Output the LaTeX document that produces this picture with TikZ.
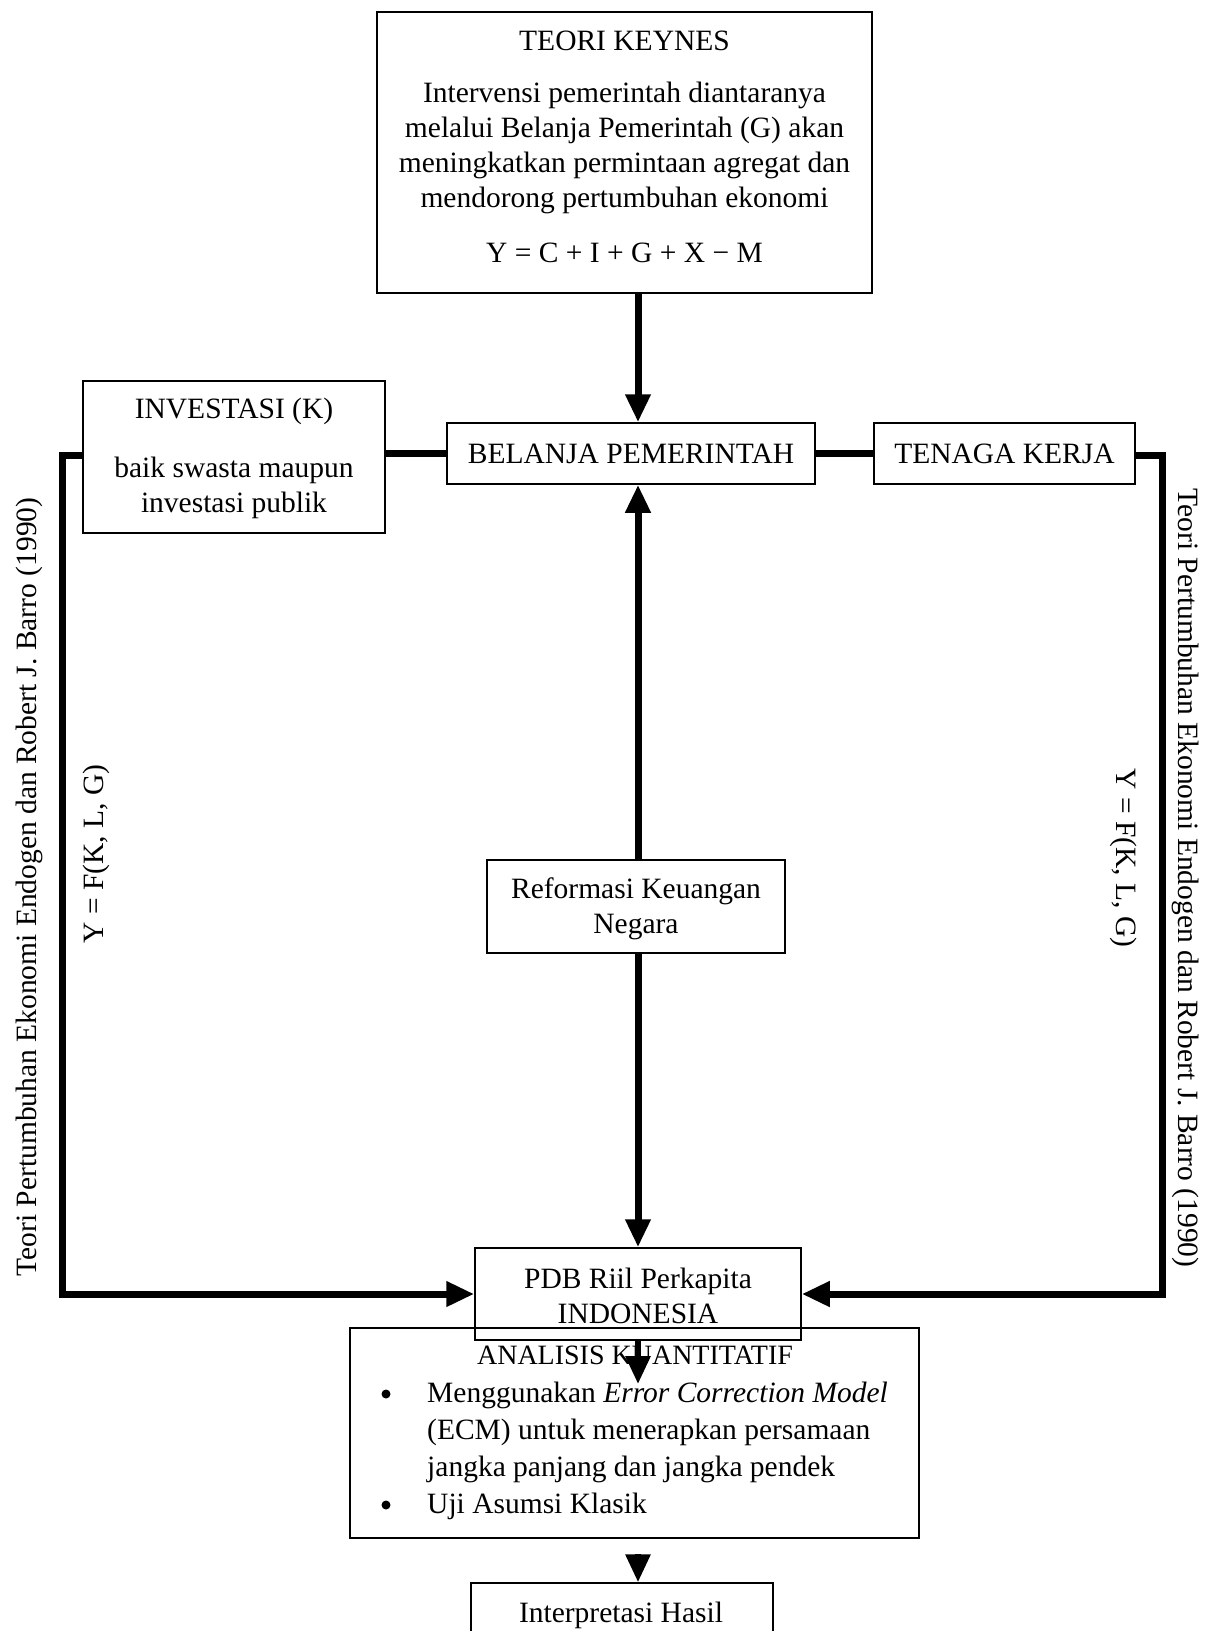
\documentclass[tikz,border=0pt]{standalone}
\usepackage{fontspec}
\setmainfont{Liberation Serif}
\usetikzlibrary{arrows.meta}
\begin{document}
\begin{tikzpicture}[x=1pt,y=-1pt,
  box/.style={draw,line width=1.5pt,inner sep=0pt},
  txt/.style={font=\fontsize{29.5}{35}\selectfont, inner sep=0pt, align=center},
  bul/.style={circle,fill,inner sep=0pt,minimum size=9pt},
  conn/.style={line width=7pt},
  arr/.style={line width=7pt,-{Triangle[length=28pt,width=24pt]}},
]
\useasboundingbox (0,0) rectangle (1213,1631);
\fill[white] (0,0) rectangle (1213,1631);
% Keynes
\node[box,minimum width=495pt,minimum height=281pt] (keynes) at (624.5,152.5) {};
\node[txt] (k0) at (624.5,41) {TEORI KEYNES};
\node[txt] (k1) at (624.5,148) {Intervensi pemerintah diantaranya\\melalui Belanja Pemerintah (G) akan\\meningkatkan permintaan agregat dan\\mendorong pertumbuhan ekonomi};
\node[txt] (k2) at (624.5,253) {Y = C + I + G + X − M};
% Investasi
\node[box,minimum width=302pt,minimum height=152pt] (inv) at (234,457) {};
\node[txt] (i0) at (234,411) {INVESTASI (K)};
\node[txt] (i1) at (234,488) {baik swasta maupun\\investasi publik};
% Belanja, Tenaga
\node[box,txt,minimum width=368pt,minimum height=61pt] (bel) at (631,453.5) {BELANJA PEMERINTAH};
\node[box,txt,minimum width=261pt,minimum height=61pt] (ten) at (1004.5,453.5) {TENAGA KERJA};
% Reformasi
\node[box,minimum width=298pt,minimum height=93pt] (ref) at (636,906.5) {};
\node[txt] (reft) at (636,909) {Reformasi Keuangan\\Negara};
% Analisis
\node[box,minimum width=569pt,minimum height=210pt] (ana) at (634.5,1433) {};
\node[txt,font=\fontsize{28}{34}\selectfont] (a0) at (635,1355) {ANALISIS KUANTITATIF};
\node[bul] (bu1) at (386,1394) {};
\node[bul] (bu2) at (386,1505) {};
\node[txt,anchor=west] (a1) at (427,1395) {Menggunakan \textit{Error Correction Model}};
\node[txt,anchor=west] (a2) at (427,1432) {(ECM) untuk menerapkan persamaan};
\node[txt,anchor=west] (a3) at (427,1469) {jangka panjang dan jangka pendek};
\node[txt,anchor=west] (a4) at (427,1506) {Uji Asumsi Klasik};
% PDB
\node[box,minimum width=326pt,minimum height=92pt] (pdb) at (638,1294) {};
\node[txt] (pdbt) at (638,1296) {PDB Riil Perkapita\\INDONESIA};
% Interpretasi
\node[box,minimum width=302pt,minimum height=100pt] (interp) at (622,1633) {};
\node[txt] (it) at (621,1615) {Interpretasi Hasil};
% side texts
\node[txt,rotate=90] (lt) at (29,887) {Teori Pertumbuhan Ekonomi Endogen dan Robert J. Barro (1990)};
\node[txt,rotate=90] (lf) at (96,854) {Y = F(K, L, G)};
\node[txt,rotate=-90] (rt) at (1186,878) {Teori Pertumbuhan Ekonomi Endogen dan Robert J. Barro (1990)};
\node[txt,rotate=-90] (rf) at (1124,858) {Y = F(K, L, G)};
% connectors
\coordinate (ax) at (638,0);
\coordinate (L) at (62,455);
\coordinate (R) at (1162,455);
\coordinate (t1) at (638,1384);
\coordinate (s2) at (638,1554);
\draw[arr] (keynes.south -| ax) -- (bel.north -| ax);
\draw[arr] (ref.north -| ax) -- (bel.south -| ax);
\draw[arr] (ref.south -| ax) -- (pdb.north);
\draw[conn] (inv.east |- bel.west) -- (bel.west);
\draw[conn] (bel.east) -- (ten.west);
\draw[arr] (inv.west |- L) -- (L) |- (pdb.west);
\draw[arr] (ten.east |- R) -- (R) |- (pdb.east);
\draw[arr,line width=6pt] (pdb.south) -- (t1);
\draw[arr,line width=6pt] (s2) -- (interp.north -| ax);
\end{tikzpicture}
\end{document}
